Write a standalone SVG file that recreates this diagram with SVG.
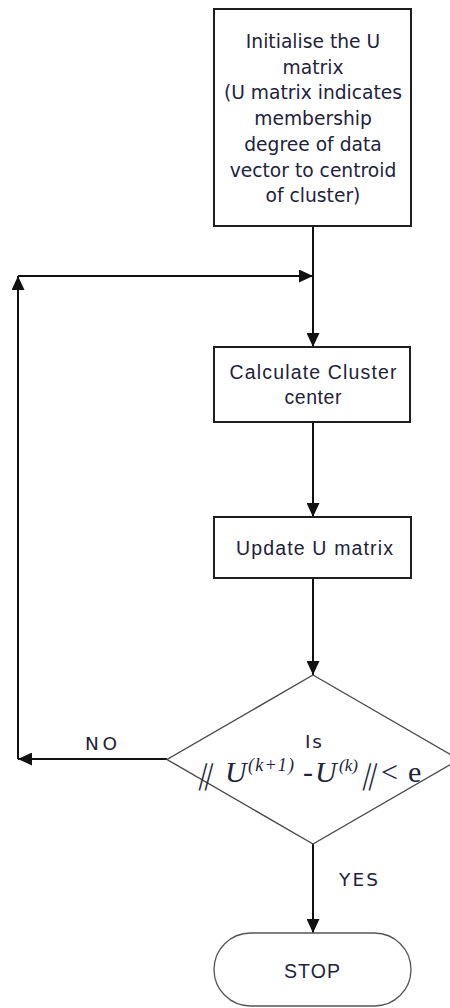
<svg xmlns="http://www.w3.org/2000/svg" width="450" height="1008" viewBox="0 0 450 1008">
<style>
.box{fill:#fff;stroke:#1e1e1e;stroke-width:2}
.dia{fill:#fff;stroke:#4a4a4a;stroke-width:1.4}
.term{fill:#fff;stroke:#555;stroke-width:1.3}
.con{fill:none;stroke:#111;stroke-width:2}
.t1{font-family:"DejaVu Sans",sans-serif;font-size:18.7px;fill:#22223a;text-anchor:middle}
.t2{font-family:"Liberation Sans",Arial,sans-serif;font-size:19.5px;fill:#22223a;text-anchor:middle}
.lab{font-family:"DejaVu Sans",sans-serif;font-size:18.5px;fill:#22223a}
.f{font-family:"Liberation Serif","Times New Roman",serif;fill:#22223a}
</style>
<defs>
<marker id="ah" markerUnits="userSpaceOnUse" markerWidth="14" markerHeight="13" refX="14" refY="6.5" orient="auto">
<path d="M0,0 L14,6.5 L0,13 z" fill="#111"/>
</marker>
</defs>
<rect width="450" height="1008" fill="#fff"/>
<g id="connectors">
<path class="con" d="M313,226 V347" marker-end="url(#ah)"/>
<path class="con" d="M18,276 H313" marker-end="url(#ah)"/>
<path class="con" d="M18,759 V276" marker-end="url(#ah)"/>
<path class="con" d="M313,422 V517" marker-end="url(#ah)"/>
<path class="con" d="M313,578 V675" marker-end="url(#ah)"/>
<path class="con" d="M167,759 H18" marker-end="url(#ah)"/>
<path class="con" d="M313,844 V933" marker-end="url(#ah)"/>
<text class="lab" x="85" y="750" textLength="32">NO</text>
<text class="lab" x="339" y="886" textLength="39">YES</text>
</g>
<g id="init">
<rect class="box" x="214" y="9" width="197" height="217"/>
<text class="t1" x="313" y="48">Initialise the U</text>
<text class="t1" x="313" y="73.7">matrix</text>
<text class="t1" x="313" y="99.4">(U matrix indicates</text>
<text class="t1" x="313" y="125">membership</text>
<text class="t1" x="313" y="150.8">degree of data</text>
<text class="t1" x="313" y="176.5">vector to centroid</text>
<text class="t1" x="313" y="202">of cluster)</text>
</g>
<g id="calc">
<rect class="box" x="214" y="347" width="196" height="75"/>
<text class="t2" x="313" y="379" textLength="167">Calculate Cluster</text>
<text class="t2" x="313" y="404" textLength="57">center</text>
</g>
<g id="update">
<rect class="box" x="214" y="517" width="197" height="61"/>
<text class="t2" x="314.5" y="555" textLength="157">Update U matrix</text>
</g>
<g id="decision">
<polygon class="dia" points="313,675 459,759.5 313,844 167,759.5"/>
<text class="lab" x="305" y="748" textLength="17">Is</text>
<text class="f" font-size="30" transform="translate(195,784) skewX(-15)" x="3" y="0">||</text>
<text class="f" font-size="30" font-style="italic" x="225" y="782">U</text>
<text class="f" font-size="18" font-style="italic" x="248" y="771" textLength="46">(k+1)</text>
<text class="f" font-size="30" x="303" y="782">-</text>
<text class="f" font-size="30" font-style="italic" x="315" y="782">U</text>
<text class="f" font-size="17" font-style="italic" x="339" y="771">(k)</text>
<text class="f" font-size="30" transform="translate(359,784) skewX(-15)" x="3" y="0">||</text>
<text class="f" font-size="30" x="381" y="782">&lt;</text>
<text class="f" font-size="30" x="408" y="782">e</text>
</g>
<g id="stop">
<rect class="term" x="214" y="933" width="197" height="73" rx="36.5" ry="36.5"/>
<text class="t2" x="312" y="978" textLength="56">STOP</text>
</g>
</svg>
